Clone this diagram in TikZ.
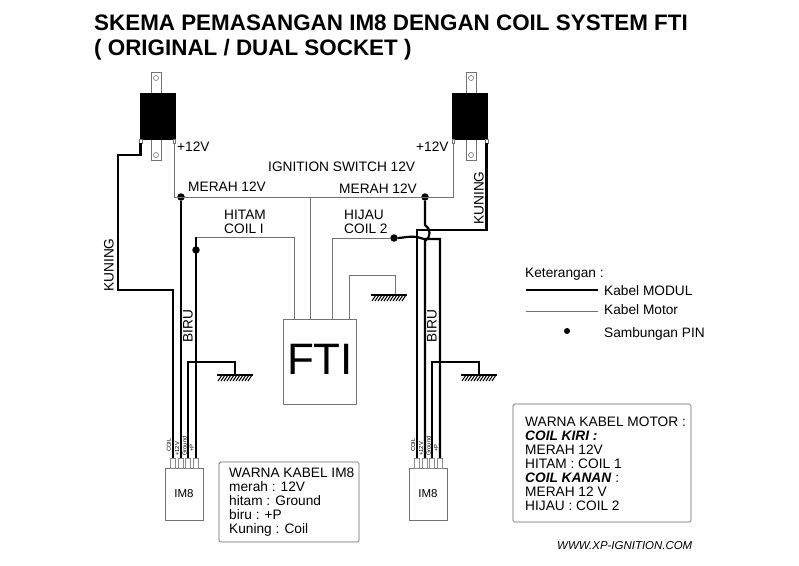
\documentclass[tikz,border=0pt]{standalone}
\usepackage{fontspec}
\setmainfont{Liberation Sans}
\tikzset{
  modul/.style={line width=2.2pt,black},
  motor/.style={line width=0.6pt,black!55},
  pin/.style={circle,fill=black,inner sep=0pt,minimum size=7.5pt},
  coilbody/.style={fill=black,draw=black,inner sep=0pt,minimum width=35pt,minimum height=46pt},
  tab/.style={draw=black!55,fill=white,line width=0.6pt,inner sep=0pt,minimum width=10pt,minimum height=21pt},
  hole/.style={circle,draw=black!55,line width=0.6pt,inner sep=0pt,minimum size=5pt},
  lug/.style={draw=black!55,fill=white,line width=0.5pt,inner sep=0pt,minimum width=2.5pt,minimum height=4pt},
  socket/.style={draw=black!55,line width=0.6pt,inner sep=0pt,minimum width=38pt,minimum height=52pt,font=\fontsize{11.5}{11.5}\selectfont},
  plug/.style={draw=black!45,fill=white,line width=0.5pt,inner sep=0pt,minimum width=5pt,minimum height=10pt},
  lbl/.style={inner sep=0pt,anchor=west,font=\fontsize{13.7}{14}\selectfont},
  lblup/.style={inner sep=0pt,rotate=90,font=\fontsize{13.7}{14}\selectfont},
  tiny/.style={inner sep=0pt,rotate=90,anchor=west,font=\fontsize{5.8}{6}\selectfont},
  note/.style={draw=black!60,line width=0.7pt,rounded corners=1.5pt,inner sep=0pt},
  heading/.style={inner sep=0pt,anchor=west,font=\fontsize{22.4}{24}\bfseries\selectfont},
  gnd/.pic={
    \draw[line width=1.6pt] (-18,0) -- (18,0);
    \foreach \i in {0,...,10} \draw[line width=1pt] (-13+\i*3,0) -- (-17+\i*3,6);
  }
}
\begin{document}
\begin{tikzpicture}[x=1pt,y=-1pt]
  \useasboundingbox (0,0) rectangle (799,565);
  % title
  \node[heading] (title1) at (94,23) {SKEMA PEMASANGAN IM8 DENGAN COIL SYSTEM FTI};
  \node[heading] (title2) at (94,50) {( ORIGINAL / DUAL SOCKET )};
  % coils
  \node[tab] (tabla) at (156,83) {}; \node[tab] (tablb) at (156,150) {};
  \node[hole] (holela) at (156,78) {}; \node[hole] (holelb) at (156,155) {};
  \node[coilbody] (coill) at (157.5,116) {};
  \node[lug] (lugla) at (140.5,141) {}; \node[lug] (luglb) at (174,141) {};
  \node[tab] (tabra) at (471,83) {}; \node[tab] (tabrb) at (471,150) {};
  \node[hole] (holera) at (471,78) {}; \node[hole] (holerb) at (471,155) {};
  \node[coilbody] (coilr) at (469.5,116) {};
  \node[lug] (lugra) at (453,141) {}; \node[lug] (lugrb) at (486.5,141) {};
  % FTI and sockets
  \node[draw=black!55,line width=0.8pt,inner sep=0pt,minimum width=73pt,minimum height=85pt] (fti) at (319.5,361.5) {};
  \node[inner sep=0pt,font=\fontsize{44}{44}\selectfont] (ftitext) at (320,359.5) {FTI};
  \node[socket] (iml) at (184,494) {IM8}; \node[socket] (imr) at (428,494) {IM8};
  \node[plug] (pla) at (173,463) {}; \node[plug] (plb) at (181,463) {}; \node[plug] (plc) at (188,463) {}; \node[plug] (pld) at (196,463) {};
  \node[plug] (pra) at (417,463) {}; \node[plug] (prb) at (425,463) {}; \node[plug] (prc) at (432,463) {}; \node[plug] (prd) at (440,463) {};
  \node[tiny] at (169,452) {COIL}; \node[tiny] at (177,456) {+12V}; \node[tiny] at (184.5,456) {Ground}; \node[tiny] at (192,452) {+P};
  \node[tiny] at (413,452) {COIL}; \node[tiny] at (421,456) {+12V}; \node[tiny] at (428.5,456) {Ground}; \node[tiny] at (436,452) {+P};
  % pins
  \node[pin] (dmerahl) at (181,197) {}; \node[pin] (dbiru) at (196,250) {};
  \node[pin] (dmerahr) at (425,197) {}; \node[pin] (dhijau) at (394,238) {};
  % motor wires
  \coordinate (sw) at (310,197);
  \draw[motor] (luglb.south) |- (lugra.south |- sw) -- (lugra.south);
  \draw[motor] (sw) -- (sw |- fti.north);
  \coordinate (hitam) at (196,237); \coordinate (ftia) at (294,319);
  \draw[motor] (hitam) -| (ftia);
  \coordinate (ftib) at (332,319);
  \draw[motor] (ftib) |- (dhijau);
  \coordinate (gndc) at (395,295); \coordinate (ftic) at (349,319);
  \draw[motor] (ftic) |- (gndc |- 0,275) -- (gndc);
  \pic at (389,295) {gnd};
  % module wires, left
  \coordinate (kl) at (118,155); \coordinate (klb) at (118,290);
  \draw[modul] (lugla.south) |- (kl) -- (klb) -| (pla.north);
  \draw[modul] (dmerahl) -- (plb.north);
  \draw[modul] (hitam) -- (pld.north);
  \coordinate (gl) at (235,375);
  \draw[modul] (plc.north) |- (gl |- 0,362) -- (gl);
  \pic at (235,375) {gnd};
  % module wires, right
  \coordinate (kr) at (486.5,230);
  \draw[modul] (lugrb.south) -- (kr) -| (pra.north);
  \coordinate (hopa) at (425,225); \coordinate (hopb) at (425,241);
  \draw[modul] (dmerahr) -- (hopa) .. controls (431,228) and (431,238) .. (hopb) -- (prb.north);
  \coordinate (hb) at (440,239);
  \draw[modul] (dhijau.east) .. controls (402,238) and (408,236) .. (417,237) -- (424,239) -- (hb) -- (prd.north);
  \coordinate (gr) at (479,375);
  \draw[modul] (prc.north) |- (gr |- 0,362) -- (gr);
  \pic at (479,375) {gnd};
  % labels
  \node[lbl] (v12l) at (177,147) {+12V}; \node[lbl] (v12r) at (416,147) {+12V};
  \node[lbl] (ign) at (268,167) {IGNITION SWITCH 12V};
  \node[lbl] (ml) at (188,187) {MERAH 12V}; \node[lbl] (mr) at (339,189) {MERAH 12V};
  \node[lbl,align=left] (hit) at (224,222) {HITAM\\COIL I};
  \node[lbl,align=left] (hij) at (344,222) {HIJAU\\COIL 2};
  \node[lblup] (kunl) at (109,265) {KUNING}; \node[lblup] (kunr) at (479,198) {KUNING};
  \node[lblup] (birul) at (188,326) {BIRU}; \node[lblup] (birur) at (432,326) {BIRU};
  % legend
  \node[lbl] (ket) at (525,274) {Keterangan :};
  \coordinate (lga) at (526,290); \coordinate (lgb) at (598,290); \coordinate (lgc) at (526,311); \coordinate (lgd) at (598,311);
  \draw[modul] (lga) -- (lgb); \draw[motor] (lgc) -- (lgd);
  \node[lbl] (kmod) at (604,291) {Kabel MODUL}; \node[lbl] (kmot) at (604,310) {Kabel Motor};
  \node[pin,minimum size=6pt] (dleg) at (567,331) {}; \node[lbl] (samb) at (604,334) {Sambungan PIN};
  % notes
  \draw[note] (219,462) rectangle (359,542); \draw[note] (513,404) rectangle (691,522);
  \node[lbl,anchor=north west,align=left] (wim) at (229,468) {WARNA KABEL IM8\\merah : 12V\\hitam : Ground\\biru : +P\\Kuning : Coil};
  \node[lbl,anchor=north west,align=left] (wmot) at (525,416.5) {WARNA KABEL MOTOR :\\\textbf{\textit{COIL KIRI :}}\\MERAH 12V\\HITAM : COIL 1\\\textbf{\textit{COIL KANAN}} :\\MERAH 12 V\\HIJAU : COIL 2};
  \node[inner sep=0pt,anchor=west,font=\fontsize{11.45}{12}\itshape\selectfont] (web) at (557,546) {WWW.XP-IGNITION.COM};
\end{tikzpicture}
\end{document}
